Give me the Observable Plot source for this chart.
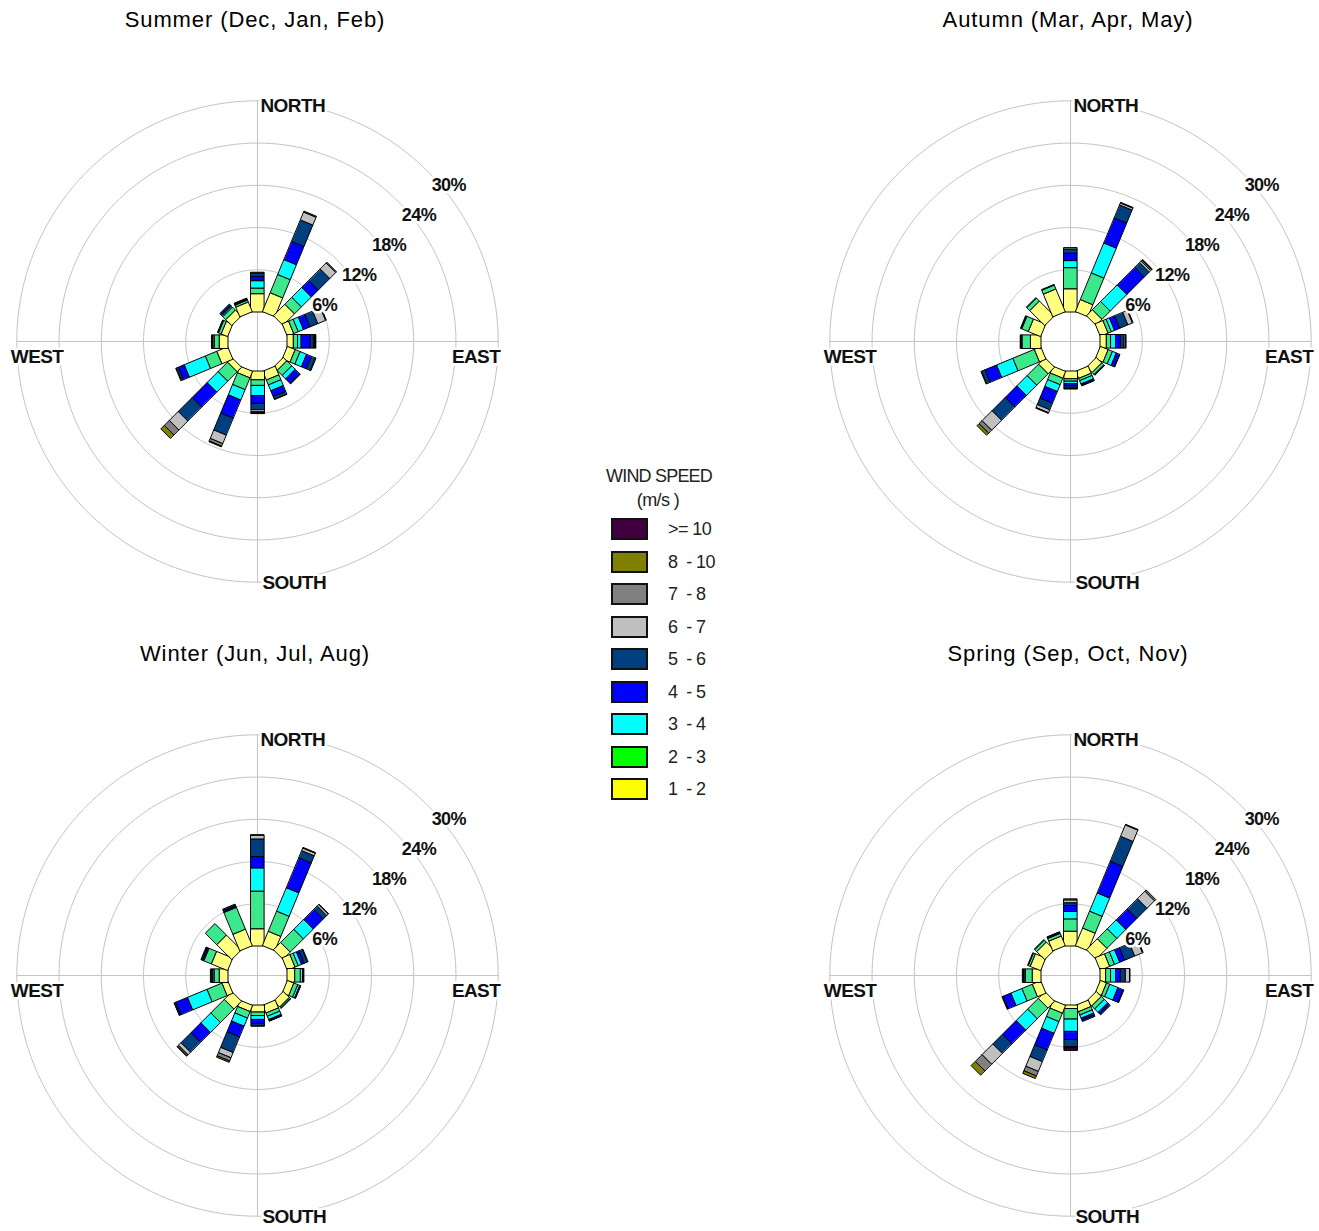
<!DOCTYPE html>
<html><head><meta charset="utf-8">
<script src="https://cdn.jsdelivr.net/npm/d3@7"></script>
<script src="https://cdn.jsdelivr.net/npm/@observablehq/plot@0.6"></script>
<style>
body{margin:0;background:#fff;font-family:"Liberation Sans",Arial,sans-serif;}
#page{position:relative;width:1319px;height:1231px;overflow:hidden;background:#fff;}
.rose{position:absolute;}
.title{position:absolute;font-size:22px;letter-spacing:0.9px;color:#000;transform:translateX(-50%);white-space:nowrap;line-height:1;}
.lg{position:absolute;white-space:pre;color:#222;font-family:"Liberation Sans",Arial,sans-serif;}
.sw{position:absolute;width:33px;height:18px;border:2px solid #111;}
</style></head><body><div id="page"></div><script>
// ---- data -------------------------------------------------------------
const directions = ["N","NNE","NE","ENE","E","ESE","SE","SSE","S","SSW","SW","WSW","W","WNW","NW","NNW"];
// speed bins from the centre outwards
const speedBins = ["1 - 2","2 - 3","3 - 4","4 - 5","5 - 6","6 - 7","7 - 8","8 - 10",">= 10"];
const legendLabels = ["1  - 2","2  - 3","3  - 4","4  - 5","5  - 6","6  - 7","7  - 8","8  - 10",">= 10"];
const barColors = ["#ffff80","#3ce88c","#00ffff","#0000ff","#003f7f","#c0c0c0","#808080","#808000","#400040"];
const legendColors = ["#ffff00","#00ff00","#00ffff","#0000ff","#003f7f","#c0c0c0","#808080","#808000","#400040"];
const ringTicks = [6, 12, 18, 24, 30];
const compass = ["NORTH","EAST","SOUTH","WEST"];
const seasonTitles = ["Summer (Dec, Jan, Feb)","Autumn (Mar, Apr, May)","Winter (Jun, Jul, Aug)","Spring (Sep, Oct, Nov)"];

// percent of time per direction (rows, N..NNW) and speed bin (columns, 1-2 .. >=10)
const summer = [
  [2.6,0.8,1.05,0.6,0.5,0.1,0,0,0],
  [2.9,2.8,2.3,2.8,3.3,1.2,0.15,0,0],
  [2.3,1.4,2.0,1.4,2.3,1.2,0.15,0,0],
  [1.0,0.7,0.8,1.0,1.2,1.2,0.1,0,0],
  [0.9,0.6,0.5,1.3,0.45,0.15,0.1,0.05,0.05],
  [1.2,0.75,1.0,0.75,0.6,0.1,0,0,0],
  [0.7,1.0,0.7,0.9,0.1,0,0,0,0],
  [1.35,0.75,0.9,0.9,0.4,0.05,0,0,0],
  [1.25,0.8,1.45,1.1,0.9,0.3,0.15,0.05,0.05],
  [1.0,1.8,1.6,2.8,2.6,1.3,0.4,0.1,0],
  [0.9,1.9,2.2,3.0,2.8,1.8,1.0,0.7,0],
  [1.7,1.75,3.25,0.9,0.3,0.1,0,0,0],
  [1.25,0.7,0.2,0.1,0.1,0,0,0,0],
  [1.0,0.4,0.1,0.05,0,0,0,0,0],
  [1.2,0.6,0.2,0.2,0.2,0,0,0,0],
  [1.5,0.3,0.1,0.1,0.1,0,0,0,0]
];
const autumn = [
  [3.3,3.0,1.0,1.05,0.6,0.2,0,0,0],
  [1.85,4.1,4.6,3.85,2.0,0.3,0.1,0,0],
  [1.2,1.65,3.35,3.5,1.0,0.3,0.2,0.1,0],
  [1.2,0.5,0.5,0.8,1.25,0.7,0.1,0,0],
  [0.9,0.6,0.7,0.7,0.5,0.2,0.1,0,0],
  [1.2,0.65,0.6,0.5,0.05,0,0,0,0],
  [1.1,0.4,0.1,0.05,0,0,0,0,0],
  [1.1,0.35,0.5,0.2,0.1,0,0,0,0],
  [1.1,0.35,0.35,0.3,0.3,0.1,0.05,0,0],
  [1.05,1.0,1.05,1.8,1.0,0.45,0.1,0,0],
  [1.3,2.3,2.05,2.35,2.65,2.0,0.6,0.4,0],
  [1.0,3.3,2.5,1.8,0.5,0.1,0,0,0],
  [1.5,1.2,0.1,0.1,0.05,0,0,0,0],
  [1.9,1.0,0.1,0.1,0,0,0,0,0],
  [3.0,0.6,0.1,0,0,0,0,0,0],
  [3.5,0.6,0.1,0,0,0,0,0,0]
];
const winter = [
  [2.45,5.35,3.3,1.6,2.5,0.55,0.05,0,0],
  [2.2,3.1,3.6,4.6,1.1,0.4,0.1,0,0],
  [1.45,2.65,2.0,2.0,0.7,0.3,0.05,0,0],
  [1.2,0.5,0.5,0.4,0.5,0.1,0,0,0],
  [1.1,0.8,0.3,0.1,0.1,0,0,0,0],
  [1.0,0.6,0.3,0.1,0.05,0,0,0,0],
  [1.2,0.2,0.1,0,0,0,0,0,0],
  [1.2,0.5,0.5,0.2,0.05,0,0,0,0],
  [1.0,0.5,0.55,0.6,0.3,0.05,0,0,0],
  [0.95,1.0,1.25,1.65,2.4,0.8,0.5,0.2,0],
  [1.55,2.7,2.0,2.0,2.0,0.5,0.2,0.1,0],
  [0.9,2.3,3.0,1.8,0.2,0.05,0,0,0],
  [1.25,0.7,0.2,0.15,0.2,0,0,0,0],
  [2.5,1.15,0.1,0.2,0.15,0,0,0,0],
  [3.0,2.3,0,0,0,0,0,0,0],
  [2.55,3.35,0.1,0.2,0.2,0,0,0,0]
];
const spring = [
  [2.1,1.75,1.05,0.85,0.4,0.4,0.15,0,0],
  [2.7,2.6,2.8,4.85,3.85,1.75,0.1,0,0],
  [2.2,2.0,1.8,2.2,2.05,1.5,0.25,0,0],
  [1.45,0.75,0.8,0.75,1.55,1.2,0.1,0,0],
  [0.8,0.7,0.7,0.7,0.7,0.6,0.05,0,0],
  [0.95,0.5,1.25,0.8,0.1,0,0,0,0],
  [1.0,0.6,0.7,0.3,0.2,0,0,0,0],
  [1.0,0.5,0.5,0.3,0.2,0,0,0,0],
  [0.5,1.5,1.75,1.15,1.0,0.05,0.05,0.1,0.35],
  [1.2,1.3,1.8,2.55,1.8,1.5,0.7,0.4,0],
  [1.35,2.15,2.3,2.75,1.95,2.15,1.35,0.85,0],
  [1.3,1.6,1.7,1.2,0.15,0,0,0,0],
  [1.25,0.95,0.2,0.15,0.1,0,0,0,0],
  [1.6,0.3,0.1,0,0,0,0,0,0],
  [1.6,0.4,0.1,0,0,0,0,0,0],
  [1.5,0.4,0.1,0.1,0.05,0,0,0,0]
];
const seasons = [summer, autumn, winter, spring];

// ---- layout ------------------------------------------------------------
const PX = 7.04;              // pixels per percent
const HOLE = 29.5 / PX;       // calm hole radius in percent units
const SIZE = 510;
const D = SIZE / 2 / PX;
const HALF = 6.6 / PX;        // half bar width
const RMAX = HOLE + ringTicks[ringTicks.length - 1];
const centers = [[257, 341], [1070, 341], [257, 975], [1070, 975]];

const page = document.getElementById("page");

function pt(theta, r, off) {
  const t = theta * Math.PI / 180;
  const x = Math.sin(t) * r + Math.cos(t) * off;
  const y = Math.cos(t) * r - Math.sin(t) * off;
  return [x, -y];
}

function circle(r) {
  return d3.range(0, 361, 2).map(a => pt(a, r, 0));
}

function rose(matrix) {
  const segs = [];
  matrix.forEach((row, i) => {
    const theta = i * 22.5;
    let cum = 0;
    row.forEach((v, b) => {
      if (v > 0) {
        const r0 = HOLE + cum, r1 = HOLE + cum + v;
        const ring = [pt(theta, r0, -HALF), pt(theta, r0, HALF), pt(theta, r1, HALF), pt(theta, r1, -HALF)];
        ring.push(ring[0]);
        segs.push({type: "Feature", properties: {bin: speedBins[b], dir: directions[i]}, geometry: {type: "Polygon", coordinates: [ring]}});
      }
      cum += v;
    });
  });
  const rings = ringTicks.map(t => ({type: "Feature", properties: {t}, geometry: {type: "LineString", coordinates: circle(HOLE + t)}}));
  const axes = [
    {type: "Feature", properties: {}, geometry: {type: "LineString", coordinates: [pt(0, RMAX, 0), pt(180, RMAX, 0)]}},
    {type: "Feature", properties: {}, geometry: {type: "LineString", coordinates: [pt(90, RMAX, 0), pt(270, RMAX, 0)]}}
  ];
  const pctLabels = ringTicks.map(t => {
    const p = pt(45, HOLE + t, 0);
    return {x: p[0], y: p[1], text: t + "%"};
  });
  const n = pt(0, RMAX, 0), e = pt(90, RMAX, 0), s = pt(180, RMAX, 0), w = pt(270, RMAX, 0);
  const font = {fontFamily: "'Liberation Sans',Arial,sans-serif", fontWeight: "bold", fill: "#111", stroke: "white", strokeWidth: 5, paintOrder: "stroke"};
  return Plot.plot({
    width: SIZE, height: SIZE, margin: 0,
    projection: {type: "identity", domain: {type: "MultiPoint", coordinates: [[-D, -D], [D, D]]}},
    color: {type: "ordinal", domain: speedBins, range: barColors},
    style: {background: "transparent", overflow: "visible"},
    marks: [
      Plot.geo(rings, {stroke: "#c4c4c4", strokeWidth: 1}),
      Plot.geo(axes, {stroke: "#c4c4c4", strokeWidth: 1}),
      Plot.geo(segs, {fill: d => d.properties.bin, stroke: "#000", strokeWidth: 1}),
      Plot.text(pctLabels, {x: "x", y: "y", text: "text", textAnchor: "start", dx: 4, dy: 14, fontSize: 18, letterSpacing: -0.5, ...font}),
      Plot.text([{x: n[0], y: n[1], t: compass[0]}], {x: "x", y: "y", text: "t", textAnchor: "start", dx: 3, dy: 5, fontSize: 19, ...font, style: "letter-spacing:-0.5px"}),
      Plot.text([{x: s[0], y: s[1], t: compass[2]}], {x: "x", y: "y", text: "t", textAnchor: "start", dx: 5, dy: 1, fontSize: 19, ...font}),
      Plot.text([{x: e[0], y: e[1], t: compass[1]}], {x: "x", y: "y", text: "t", textAnchor: "end", dx: 2, dy: 15, fontSize: 19, ...font}),
      Plot.text([{x: w[0], y: w[1], t: compass[3]}], {x: "x", y: "y", text: "t", textAnchor: "start", dx: -6, dy: 15, fontSize: 19, ...font})
    ]
  });
}

seasons.forEach((m, k) => {
  const [cx, cy] = centers[k];
  const svg = rose(m);
  svg.classList.add("rose");
  svg.style.left = (cx - SIZE / 2) + "px";
  svg.style.top = (cy - SIZE / 2) + "px";
  svg.querySelectorAll("text").forEach(el => el.setAttribute("letter-spacing", "-0.6"));
  page.appendChild(svg);
  const t = document.createElement("div");
  t.className = "title";
  t.textContent = seasonTitles[k];
  t.style.left = (cx - 2) + "px";
  t.style.top = (cy - 332) + "px";
  page.appendChild(t);
});

// ---- legend ------------------------------------------------------------
function addText(txt, x, y, size, anchorMid, spacing) {
  const d = document.createElement("div");
  d.className = "lg";
  d.textContent = txt;
  d.style.left = x + "px";
  d.style.top = y + "px";
  d.style.fontSize = size + "px";
  if (spacing) d.style.letterSpacing = spacing + "px";
  if (anchorMid) d.style.transform = "translateX(-50%)";
  page.appendChild(d);
}
addText("WIND SPEED", 659, 466, 18, true, -0.8);
addText("(m/s )", 658, 490, 18, true, -0.6);
for (let j = 0; j < speedBins.length; j++) {
  const row = speedBins.length - 1 - j;
  const y = 518 + j * 32.5;
  const sw = document.createElement("div");
  sw.className = "sw";
  sw.style.left = "611px";
  sw.style.top = y + "px";
  sw.style.background = legendColors[row];
  page.appendChild(sw);
  addText(legendLabels[row], 668, y + 1, 18, false, -0.6);
}
</script></body></html>
